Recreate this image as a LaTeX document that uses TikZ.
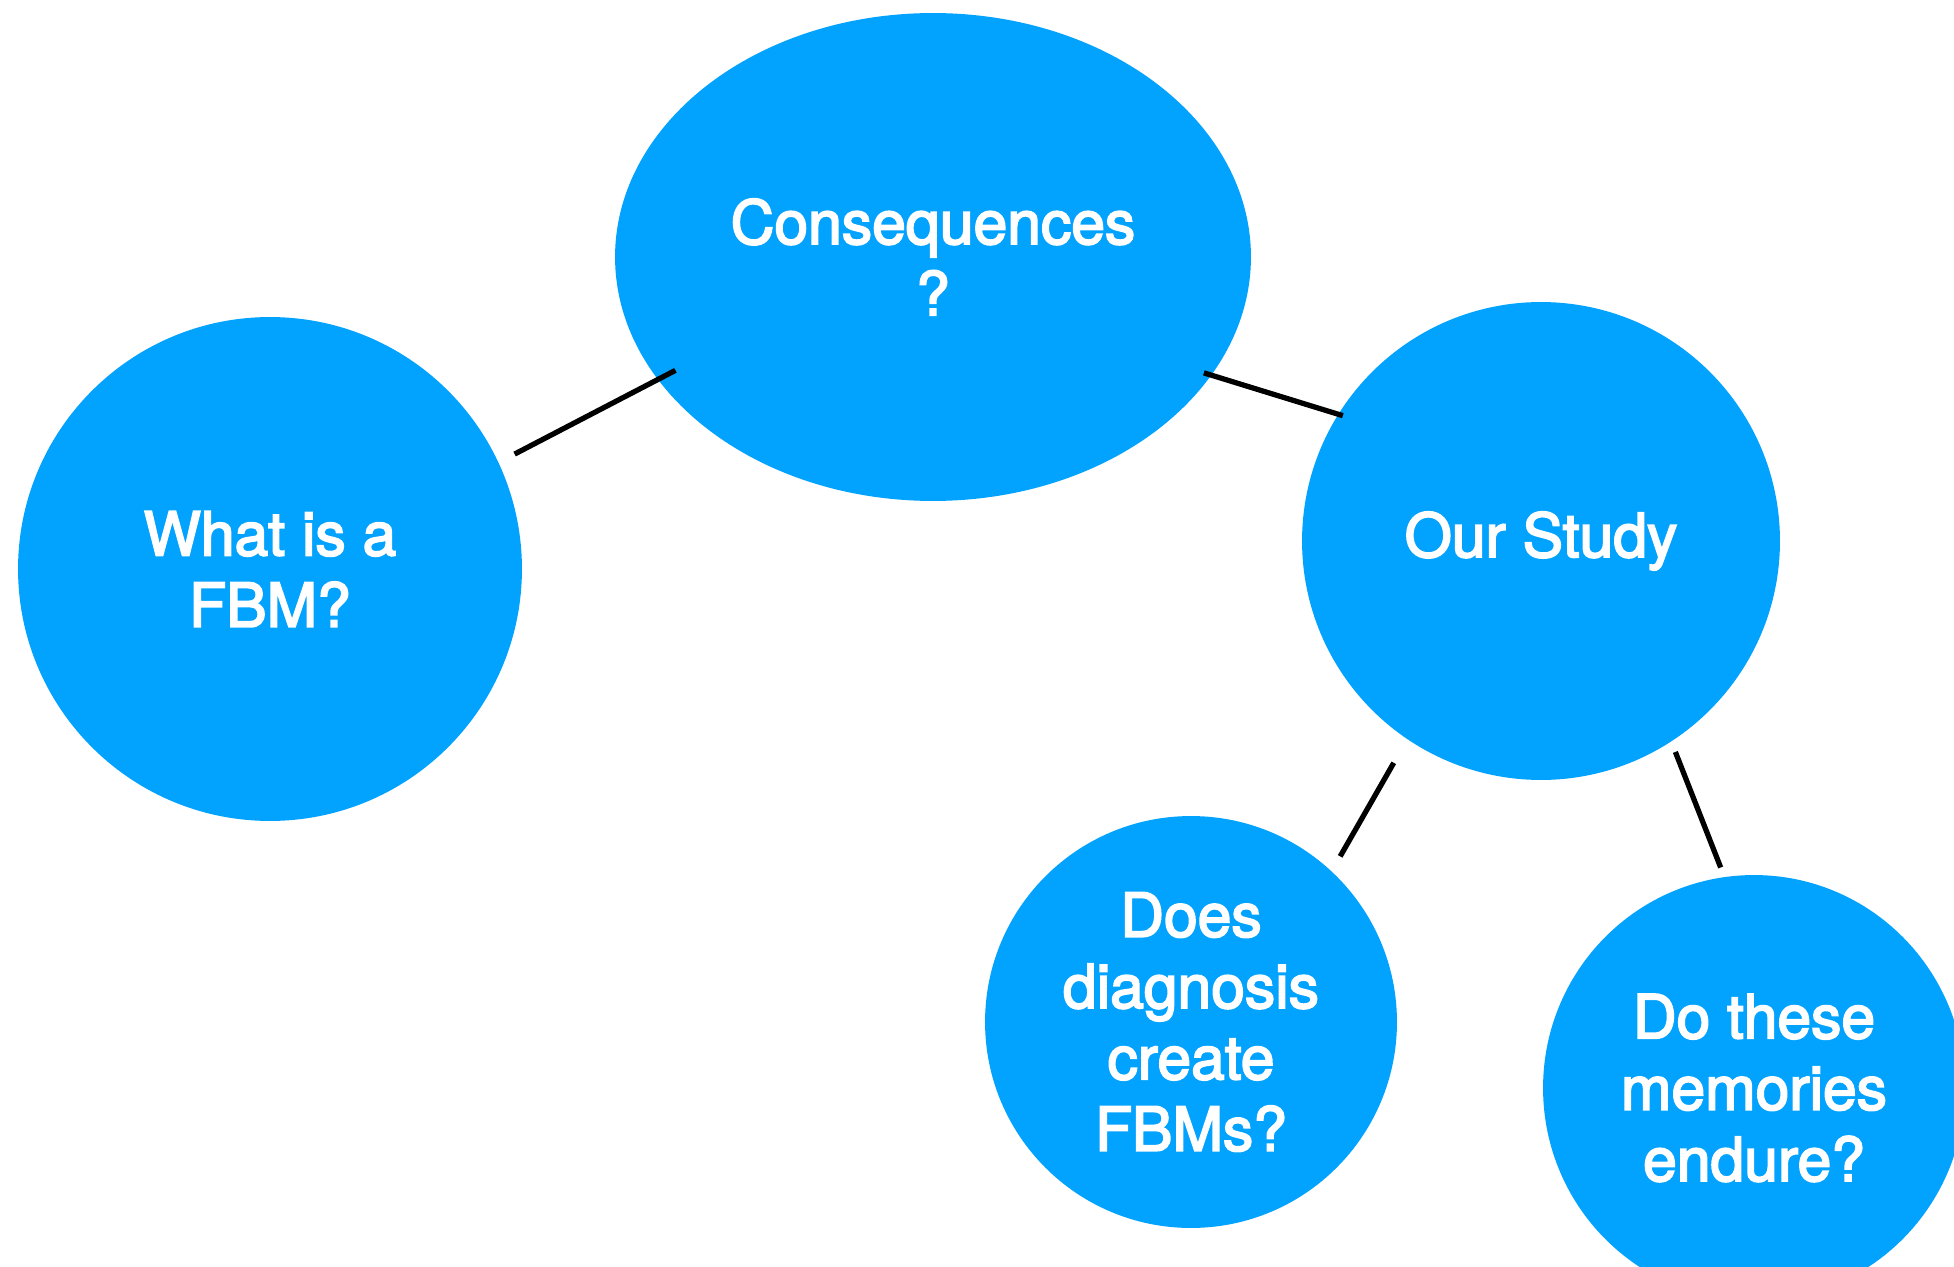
\documentclass[tikz,border=0pt]{standalone}
\usepackage{fontspec}
\setmainfont{TeX Gyre Heros}
\newfontfamily\bubblefont{TeX Gyre Heros}[FakeBold=3]
\usetikzlibrary{shapes.geometric}
\definecolor{bubble}{RGB}{2,162,255}

\begin{document}
\begin{tikzpicture}[x=0.02cm, y=-0.02cm,
    topic/.style={fill=bubble, text=white, align=center, inner sep=0pt,
      font=\bubblefont\fontsize{34.5}{40.6}\selectfont},
    link/.style={line width=3pt}]
  \useasboundingbox (0,0) rectangle (1954,1267);
  % Where the bubbles sit
  \node (cons) [topic, ellipse, minimum width=12.72cm, minimum height=9.76cm] at (933,257) {Consequences\\?};
  \node (what) [topic, circle, minimum size=10.08cm] at (270,569) {What is a\\FBM?};
  \node (study) [topic, circle, minimum size=9.56cm] at (1541,541) {Our Study};
  \node (diag) [topic, circle, minimum size=8.24cm] at (1191,1022) {Does\\diagnosis\\create\\FBMs?};
  \node (mem) [topic, ellipse, minimum width=8.44cm, minimum height=8.52cm] at (1754,1088) {Do these\\memories\\endure?};
  % The lines between them
  \draw[link, shorten <=0.36cm, shorten >=-0.4cm] (what.25) -- (cons.204);
  \draw[link, shorten <=-0.16cm, shorten >=-0.1cm] (cons.337) -- (study.148);
  \draw[link, shorten <=0.54cm, shorten >=0.34cm] (study.236) -- (diag.47);
  \draw[link, shorten <=0.22cm, shorten >=0.2cm] (study.303) -- (mem.98);
\end{tikzpicture}
\end{document}
